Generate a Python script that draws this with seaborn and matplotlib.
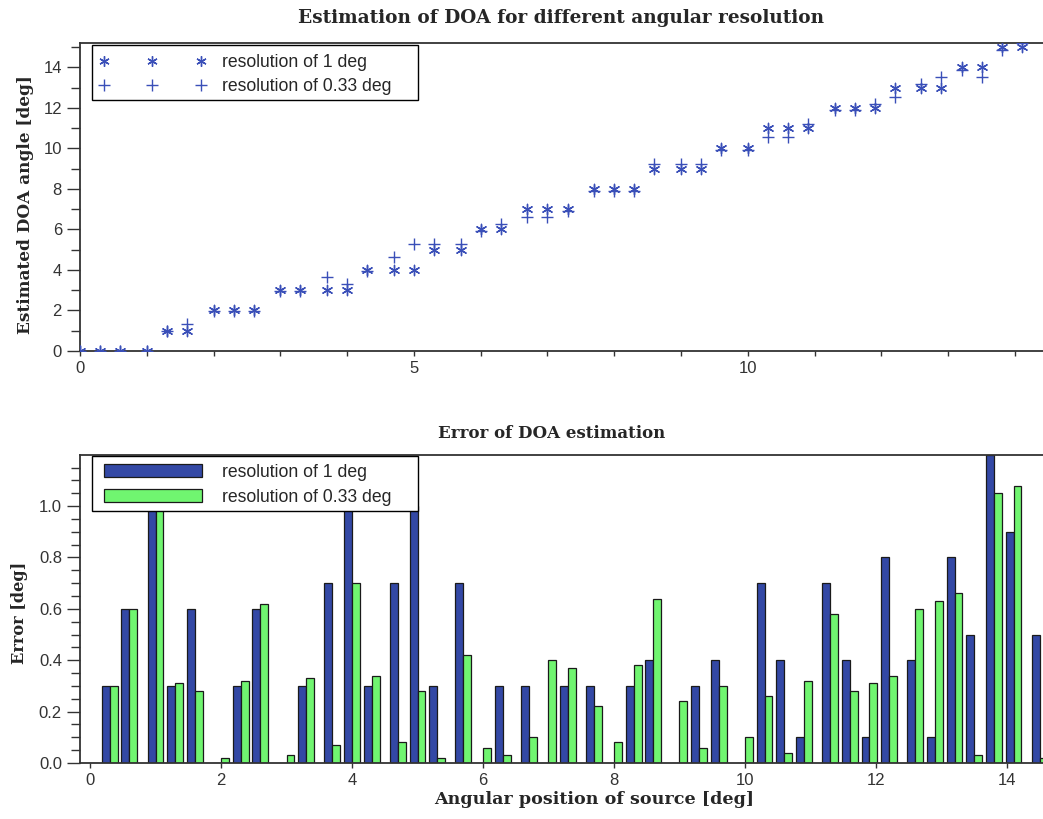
import numpy as np
import pandas as pd
import matplotlib
matplotlib.use("Agg")
import matplotlib.pyplot as plt
from matplotlib.lines import Line2D
from matplotlib.patches import Patch, Rectangle
from matplotlib.ticker import MultipleLocator, FormatStrFormatter
import seaborn as sns

# Source positions [deg]
positions = [0.0, 0.3, 0.6, 1.0, 1.3, 1.6, 2.0, 2.3, 2.6, 3.0, 3.3, 3.7, 4.0, 4.3,
             4.7, 5.0, 5.3, 5.7, 6.0, 6.3, 6.7, 7.0, 7.3, 7.7, 8.0, 8.3, 8.6, 9.0,
             9.3, 9.6, 10.0, 10.3, 10.6, 10.9, 11.3, 11.6, 11.9, 12.2, 12.6, 12.9,
             13.2, 13.5, 13.8, 14.1, 14.5]

# Estimated DOA with a 1 deg grid
est_1deg = [0, 0, 0, 0, 1, 1, 2, 2, 2, 3, 3, 3, 3, 4,
            4, 4, 5, 5, 6, 6, 7, 7, 7, 8, 8, 8, 9, 9,
            9, 10, 10, 11, 11, 11, 12, 12, 12, 13, 13, 13,
            14, 14, 15, 15, 15]

# Estimated DOA with a 0.33 deg grid
est_033deg = [0.0, 0.0, 0.0, 0.0, 0.99, 1.32, 1.98, 1.98, 1.98, 2.97, 2.97, 3.63, 3.30, 3.96,
              4.62, 5.28, 5.28, 5.28, 5.94, 6.27, 6.60, 6.60, 6.93, 7.92, 7.92, 7.92, 9.24, 9.24,
              9.24, 9.90, 9.90, 10.56, 10.56, 11.22, 11.88, 11.88, 12.21, 12.54, 13.20, 13.53,
              13.86, 13.53, 14.85, 15.18, 14.52]

# Absolute estimation errors [deg]
err_1deg = [0.0, 0.3, 0.6, 1.0, 0.3, 0.6, 0.0, 0.3, 0.6, 0.0, 0.3, 0.7, 1.0, 0.3,
            0.7, 1.0, 0.3, 0.7, 0.0, 0.3, 0.3, 0.0, 0.3, 0.3, 0.0, 0.3, 0.4, 0.0,
            0.3, 0.4, 0.0, 0.7, 0.4, 0.1, 0.7, 0.4, 0.1, 0.8, 0.4, 0.1,
            0.8, 0.5, 1.2, 0.9, 0.5]
err_033deg = [0.0, 0.3, 0.6, 1.0, 0.31, 0.28, 0.02, 0.32, 0.62, 0.03, 0.33, 0.07, 0.70, 0.34,
              0.08, 0.28, 0.02, 0.42, 0.06, 0.03, 0.10, 0.40, 0.37, 0.22, 0.08, 0.38, 0.64, 0.24,
              0.06, 0.30, 0.10, 0.26, 0.04, 0.32, 0.58, 0.28, 0.31, 0.34, 0.60, 0.63,
              0.66, 0.03, 1.05, 1.08, 0.02]

labels = ["resolution of 1 deg", "resolution of 0.33 deg"]

marker_blue = "#3a4fb8"
bar_blue = "#3348a5"
bar_green = "#70f570"
edge = "#1a1a1a"

serif = ["DejaVu Serif"]
sans = ["Liberation Sans", "DejaVu Sans"]
legend_font = {"family": sans, "size": 12.7}

sns.set_style("white")
plt.rcParams["font.family"] = sans
plt.rcParams["axes.edgecolor"] = "#333333"
plt.rcParams["axes.linewidth"] = 1.3

fig = plt.figure(figsize=(10.43, 8.19), dpi=100)
ax1 = fig.add_axes([80 / 1043, 1 - 351 / 819, 963 / 1043, 308 / 819])
ax2 = fig.add_axes([80 / 1043, 1 - 763 / 819, 963 / 1043, 308 / 819])


def legend_box(ax, x0, y0, w, h):
    """White framed box behind a frameless legend (axes coordinates)."""
    ax.add_patch(Rectangle((x0, y0), w, h, transform=ax.transAxes, facecolor="white",
                           edgecolor="black", linewidth=1.0, zorder=4.5, clip_on=False))


# ---- upper panel: estimated angles (sources inside the shown range) ----
top_xmax = 14.42
top = pd.DataFrame({"position": positions, "est1": est_1deg, "est033": est_033deg})
top = top[top["position"] <= top_xmax]
sns.scatterplot(data=top, x="position", y="est1", marker=(6, 2, 0), s=55,
                color=marker_blue, linewidth=1.0, ax=ax1, zorder=3)
sns.scatterplot(data=top, x="position", y="est033", marker="+", s=75,
                color=marker_blue, linewidth=1.0, ax=ax1, zorder=3)
ax1.set_xlim(0, top_xmax)
ax1.set_ylim(0, 15.2)
ax1.set_xlabel("")
ax1.xaxis.set_major_locator(MultipleLocator(5))
ax1.xaxis.set_minor_locator(MultipleLocator(1))
ax1.yaxis.set_major_locator(MultipleLocator(2))
ax1.yaxis.set_minor_locator(MultipleLocator(1))

h1 = Line2D([], [], ls="none", marker=(6, 2, 0), ms=7.4, mew=1.0, color=marker_blue)
h2 = Line2D([], [], ls="none", marker="+", ms=8.7, mew=1.0, color=marker_blue)
legend_box(ax1, 12 / 963, (351 - 100) / 308, 326 / 963, 55 / 308)
leg1 = ax1.legend([h1, h2], labels, loc="upper left",
                  bbox_to_anchor=((98.7 - 80) / 963, (351 - 54) / 308),
                  borderaxespad=0, borderpad=0, numpoints=3, handlelength=6.1,
                  handletextpad=0.89, labelspacing=0.4, frameon=False, prop=legend_font)
leg1.set_zorder(5)

ax1.set_title("Estimation of DOA for different angular resolution", y=1.081, pad=0,
              va="center", fontfamily=serif, fontweight="bold", fontsize=13.3)
ax1.set_ylabel("Estimated DOA angle [deg]", fontfamily=serif, fontweight="bold", fontsize=12.2)
ax1.yaxis.set_label_coords(-0.0571, 0.474)
ax1.yaxis.label.set_va("center")

# ---- lower panel: estimation errors ----
df = pd.DataFrame({
    "position": positions * 2,
    "error": err_1deg + err_033deg,
    "grid": [labels[0]] * len(positions) + [labels[1]] * len(positions),
})
sns.barplot(data=df, x="position", y="error", hue="grid", native_scale=True,
            palette=[bar_blue, bar_green], width=0.8, errorbar=None,
            edgecolor=edge, linewidth=0.9, saturation=1, legend=False, ax=ax2)
ax2.set_xlim(-0.153, 14.55)
ax2.set_ylim(0, 1.199)
ax2.xaxis.set_major_locator(MultipleLocator(2))
ax2.yaxis.set_major_locator(MultipleLocator(0.2))
ax2.yaxis.set_minor_locator(MultipleLocator(0.05))
ax2.yaxis.set_major_formatter(FormatStrFormatter("%.1f"))

p1 = Patch(facecolor=bar_blue, edgecolor=edge, linewidth=0.9)
p2 = Patch(facecolor=bar_green, edgecolor=edge, linewidth=0.9)
legend_box(ax2, 12 / 963, (763 - 511) / 308, 326 / 963, 55 / 308)
leg2 = ax2.legend([p1, p2], labels, loc="upper left",
                  bbox_to_anchor=((104 - 80) / 963, (763 - 464) / 308),
                  borderaxespad=0, borderpad=0, handlelength=5.57, handleheight=0.74,
                  handletextpad=1.14, labelspacing=0.45, frameon=False, prop=legend_font)
leg2.set_zorder(5)

ax2.set_title("Error of DOA estimation", x=0.49, y=1.071, pad=0, va="center",
              fontfamily=serif, fontweight="bold", fontsize=12.0)
ax2.set_ylabel("Error [deg]", fontfamily=serif, fontweight="bold", fontsize=11.6)
ax2.yaxis.set_label_coords(-0.0625, 0.487)
ax2.yaxis.label.set_va("center")
ax2.set_xlabel("Angular position of source [deg]", fontfamily=serif, fontweight="bold",
               fontsize=12.6)
ax2.xaxis.set_label_coords(0.534, -0.12)
ax2.xaxis.label.set_va("center")

for ax in (ax1, ax2):
    ax.spines["right"].set_visible(False)
    ax.tick_params(axis="y", which="major", direction="out", length=9.5, width=1.0,
                   pad=3.5, labelsize=12, colors="#333333", left=True)
    ax.tick_params(axis="y", which="minor", direction="out", length=6.5, width=1.0,
                   colors="#333333", left=True)
    ax.tick_params(axis="x", which="both", direction="out", length=3.5, width=1.0,
                   pad=4, labelsize=12, colors="#333333", bottom=True)

fig.savefig("out.png", dpi=100)
